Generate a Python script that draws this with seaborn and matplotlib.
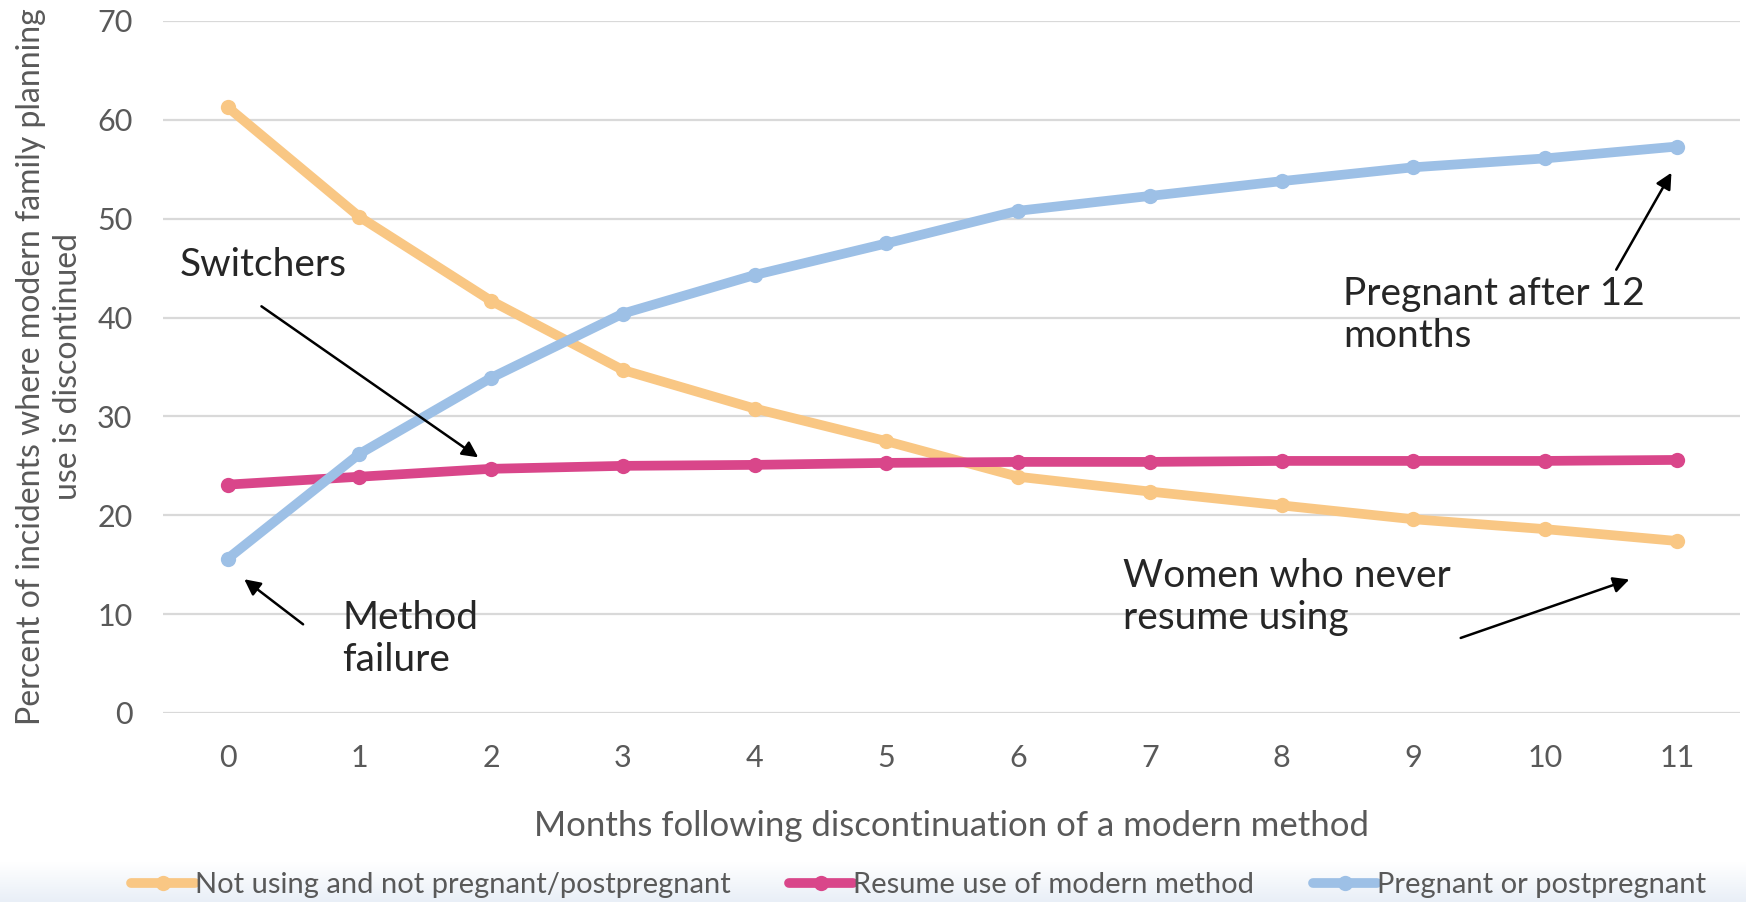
import matplotlib
matplotlib.use("Agg")
import matplotlib.pyplot as plt
import seaborn as sns
import numpy as np
import pandas as pd

months = list(range(12))
tick_labels = [str(m) for m in months]

not_using = [61.3, 50.2, 41.7, 34.7, 30.8, 27.5, 23.9, 22.4, 21.0, 19.6, 18.6, 17.4]
resume_use = [23.1, 23.9, 24.7, 25.0, 25.1, 25.3, 25.4, 25.4, 25.5, 25.5, 25.5, 25.6]
pregnant = [15.6, 26.2, 33.9, 40.4, 44.3, 47.5, 50.8, 52.3, 53.8, 55.2, 56.1, 57.3]

series_names = [
    "Not using and not pregnant/postpregnant",
    "Resume use of modern method",
    "Pregnant or postpregnant",
]
colors = ["#F9C784", "#D9468A", "#9DC0E6"]

df = pd.concat(
    [
        pd.DataFrame({"month": months, "value": vals, "series": name})
        for name, vals in zip(series_names, [not_using, resume_use, pregnant])
    ]
)

sns.set_theme(style="white")
plt.rcParams["font.family"] = ["Lato", "DejaVu Sans"]

fig = plt.figure(figsize=(17.46, 9.02), dpi=100)

# faint gradient strip along the bottom edge
bg = fig.add_axes([0, 0, 1, 40 / 902])
bg.imshow(np.linspace(0, 1, 50).reshape(-1, 1), aspect="auto",
          cmap=matplotlib.colors.LinearSegmentedColormap.from_list(
              "strip", ["#FFFFFF", "#E9EFF7"]), extent=[0, 1, 0, 1],
          origin="upper")
bg.set_axis_off()

ax = fig.add_axes([163 / 1746, 1 - 713 / 902, 1577 / 1746, 692 / 902])

sns.lineplot(
    data=df,
    x="month",
    y="value",
    hue="series",
    hue_order=series_names,
    palette=colors,
    linewidth=7,
    marker="o",
    markersize=11,
    markeredgewidth=0,
    ax=ax,
    legend=True,
)

ax.set_xlim(-0.49, 11.48)
ax.set_ylim(0, 70)
ax.set_xticks(months)
ax.set_xticklabels(tick_labels)
ax.set_yticks(range(0, 71, 10))
ax.tick_params(axis="both", labelsize=22, labelcolor="#595959", length=0)
ax.tick_params(axis="x", pad=22)
ax.tick_params(axis="y", pad=22)
ax.grid(axis="y", color="#D9D9D9", linewidth=1.6)
ax.set_axisbelow(True)
for s in ax.spines.values():
    s.set_visible(False)

ax.set_xlabel("Months following discontinuation of a modern method",
              fontsize=25, color="#595959", labelpad=28)
ax.set_ylabel("Percent of incidents where modern family planning\nuse is discontinued",
              fontsize=23, color="#595959", labelpad=10, linespacing=1.3)

arrow = dict(arrowstyle="-|>", color="black", lw=1.8, mutation_scale=24)
note = dict(fontsize=28, va="center", ha="left", linespacing=1.2)
ax.text(-0.36, 45.3, "Switchers", **note)
ax.annotate("", xy=(1.92, 25.7), xytext=(0.24, 41.3), arrowprops=arrow)
ax.text(0.87, 7.5, "Method\nfailure", **note)
ax.annotate("", xy=(0.11, 13.7), xytext=(0.59, 8.8), arrowprops=arrow)
ax.text(8.47, 40.3, "Pregnant after 12\nmonths", **note)
ax.annotate("", xy=(10.97, 54.9), xytext=(10.53, 44.6), arrowprops=arrow)
ax.text(6.8, 11.7, "Women who never\nresume using", **note)
ax.annotate("", xy=(10.66, 13.6), xytext=(9.34, 7.5), arrowprops=arrow)

handles, labels = ax.get_legend_handles_labels()
ax.legend_.remove()
fig.legend(handles, labels, loc="center", bbox_to_anchor=(0.526, 1 - 885 / 902),
           ncol=3, frameon=False, fontsize=21, handlelength=2.2,
           handletextpad=0.0, columnspacing=2.0, labelcolor="#595959")

fig.savefig("out.png", dpi=100)
